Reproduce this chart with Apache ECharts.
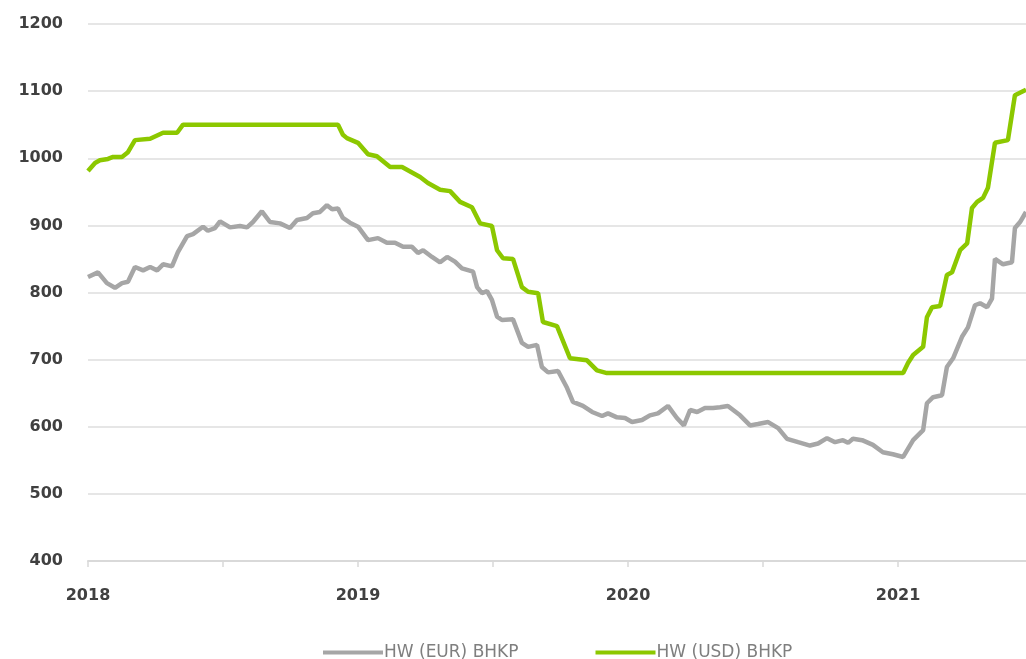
<!DOCTYPE html>
<html>
<head>
<meta charset="utf-8">
<script src="https://cdn.jsdelivr.net/npm/echarts@6/dist/echarts.min.js"></script>
<style>
html,body{margin:0;padding:0;background:#fff;}
#chart{width:1026px;height:659px;}
</style>
</head>
<body>
<div id="chart"></div>
<script>
// Decimal-year positions and values
const usdYears = [2018.000,2018.026,2018.044,2018.074,2018.093,2018.126,2018.148,2018.174,2018.230,2018.278,2018.330,2018.352,2018.926,2018.944,2018.959,2019.000,2019.037,2019.070,2019.119,2019.163,2019.230,2019.259,2019.304,2019.341,2019.378,2019.422,2019.452,2019.496,2019.515,2019.537,2019.574,2019.607,2019.630,2019.667,2019.685,2019.737,2019.785,2019.848,2019.885,2019.922,2021.019,2021.037,2021.056,2021.093,2021.107,2021.126,2021.156,2021.181,2021.200,2021.230,2021.256,2021.274,2021.293,2021.315,2021.333,2021.359,2021.407,2021.433,2021.474];
const usdValues = [981,993,997,999,1002,1002,1009,1027,1029,1038,1038,1050,1050,1035,1030,1023,1006,1003,987,987,972,963,953,951,935,927,903,899,863,851,850,808,801,799,756,750,702,699,684,680,680,695,707,719,763,778,780,826,830,863,873,926,935,941,956,1023,1027,1094,1102];

const eurYears = [2018.000,2018.037,2018.070,2018.100,2018.126,2018.148,2018.174,2018.204,2018.230,2018.256,2018.278,2018.311,2018.333,2018.367,2018.389,2018.426,2018.444,2018.470,2018.489,2018.526,2018.563,2018.589,2018.611,2018.644,2018.674,2018.711,2018.748,2018.774,2018.811,2018.833,2018.859,2018.885,2018.904,2018.926,2018.944,2018.970,2019.000,2019.037,2019.074,2019.107,2019.137,2019.167,2019.200,2019.222,2019.241,2019.274,2019.304,2019.330,2019.359,2019.385,2019.426,2019.441,2019.459,2019.478,2019.496,2019.515,2019.533,2019.574,2019.607,2019.630,2019.663,2019.681,2019.704,2019.741,2019.774,2019.796,2019.833,2019.867,2019.904,2019.926,2019.959,2019.989,2020.015,2020.052,2020.081,2020.111,2020.148,2020.181,2020.207,2020.230,2020.256,2020.285,2020.315,2020.341,2020.370,2020.415,2020.452,2020.481,2020.519,2020.556,2020.589,2020.630,2020.674,2020.704,2020.737,2020.767,2020.796,2020.815,2020.833,2020.867,2020.907,2020.944,2020.981,2021.019,2021.056,2021.093,2021.107,2021.130,2021.163,2021.181,2021.204,2021.237,2021.259,2021.285,2021.304,2021.330,2021.348,2021.359,2021.389,2021.422,2021.433,2021.452,2021.474];
const eurValues = [823,830,814,807,814,816,838,833,838,833,842,839,860,884,887,898,892,896,906,897,899,897,905,921,905,903,896,908,911,918,920,930,924,925,911,904,898,878,881,874,874,868,868,859,863,853,845,853,846,836,831,808,799,802,789,764,759,760,725,719,722,689,681,683,658,637,631,622,616,620,614,613,607,610,617,620,631,613,602,625,622,628,628,629,631,617,602,604,607,598,582,577,572,575,583,577,580,576,582,580,573,562,559,555,580,595,635,644,647,689,702,734,748,781,784,778,791,850,842,845,896,905,920];

const seriesNames = ['HW (EUR) BHKP', 'HW (USD) BHKP'];
const yearTicks = [2018, 2019, 2020, 2021];

const eurData = eurYears.map((t, i) => [t, eurValues[i]]);
const usdData = usdYears.map((t, i) => [t, usdValues[i]]);

const chart = echarts.init(document.getElementById('chart'), null, {renderer: 'canvas'});
const labelFont = {fontFamily: 'DejaVu Sans', fontSize: 16, fontWeight: 'bold', color: '#404040'};

chart.setOption({
  animation: false,
  backgroundColor: '#ffffff',
  grid: {left: 88, right: 0, top: 24, bottom: 98, containLabel: false},
  legend: {
    left: 318,
    top: 639,
    itemWidth: 60,
    itemHeight: 4,
    itemGap: 77,
    icon: 'rect',
    textStyle: {fontFamily: 'DejaVu Sans', fontSize: 17, color: '#7f7f7f', padding: [0, 0, 0, -4]},
    data: seriesNames
  },
  xAxis: {
    type: 'value',
    min: 2018,
    max: 2021.474,
    interval: 0.5,
    axisLine: {show: true, lineStyle: {color: '#d9d9d9', width: 2}},
    axisTick: {show: true, length: 6, lineStyle: {color: '#d9d9d9', width: 1.5}},
    splitLine: {show: false},
    axisLabel: Object.assign({}, labelFont, {
      margin: 27,
      showMaxLabel: false,
      formatter: v => (yearTicks.indexOf(v) >= 0 ? String(v) : '')
    })
  },
  yAxis: {
    type: 'value',
    min: 400,
    max: 1200,
    interval: 100,
    axisLine: {show: false},
    axisTick: {show: false},
    splitLine: {show: true, lineStyle: {color: '#e6e6e6', width: 2}},
    axisLabel: Object.assign({}, labelFont, {margin: 25, formatter: v => String(v)})
  },
  series: [
    {
      name: seriesNames[0],
      type: 'line',
      data: eurData,
      showSymbol: false,
      symbol: 'none',
      lineStyle: {color: '#a6a6a6', width: 4.5},
      itemStyle: {color: '#a6a6a6'},
      z: 2
    },
    {
      name: seriesNames[1],
      type: 'line',
      data: usdData,
      showSymbol: false,
      symbol: 'none',
      lineStyle: {color: '#8cc800', width: 4.5},
      itemStyle: {color: '#8cc800'},
      z: 3
    }
  ]
});
</script>
</body>
</html>
